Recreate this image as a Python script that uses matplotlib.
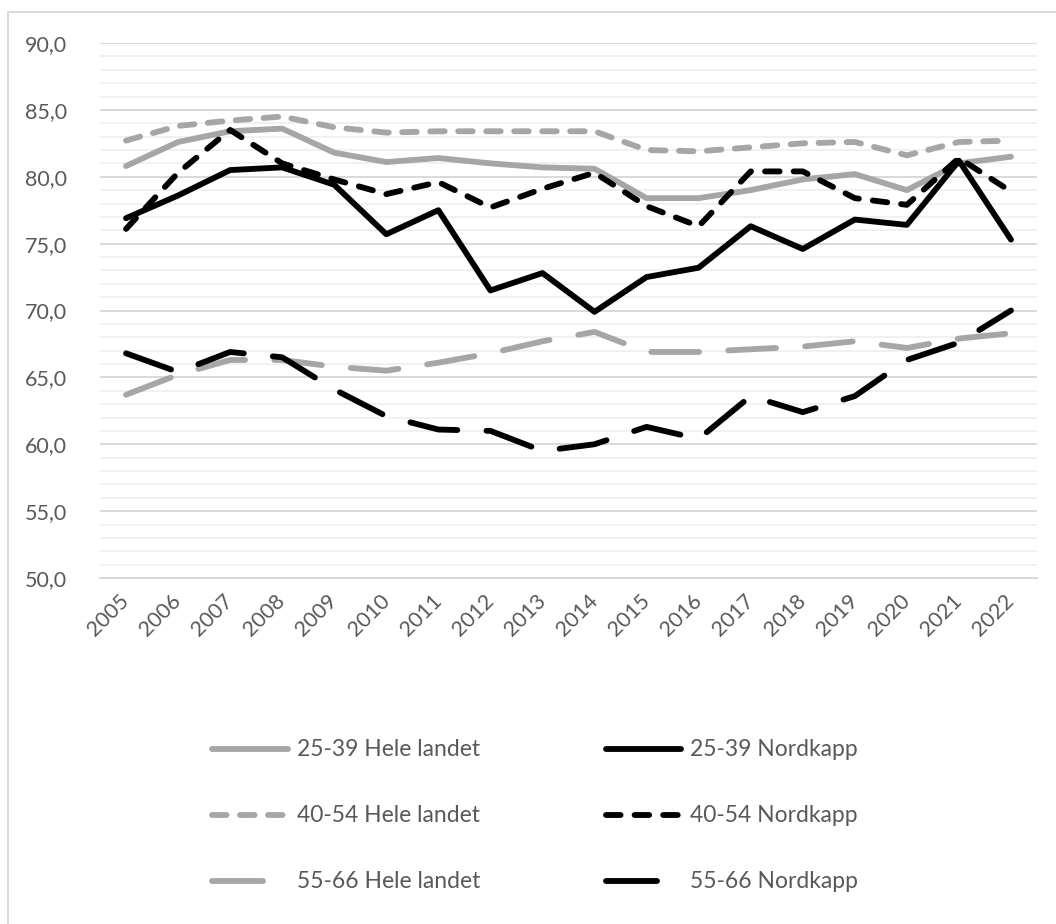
import matplotlib
matplotlib.use('Agg')
import matplotlib.pyplot as plt
from matplotlib.lines import Line2D
from matplotlib.patches import Rectangle
from matplotlib.ticker import MultipleLocator, FuncFormatter

plt.rcParams['font.family'] = ['Lato', 'DejaVu Sans']

years = list(range(2005, 2023))

hele_25_39 = [80.8, 82.6, 83.4, 83.6, 81.8, 81.1, 81.4, 81.0, 80.7, 80.6,
              78.4, 78.4, 79.0, 79.8, 80.2, 79.0, 81.0, 81.5]
nord_25_39 = [76.9, 78.6, 80.5, 80.7, 79.4, 75.7, 77.5, 71.5, 72.8, 69.9,
              72.5, 73.2, 76.3, 74.6, 76.8, 76.4, 81.2, 75.3]
hele_40_54 = [82.7, 83.8, 84.2, 84.5, 83.7, 83.3, 83.4, 83.4, 83.4, 83.4,
              82.0, 81.9, 82.2, 82.5, 82.6, 81.6, 82.6, 82.7]
nord_40_54 = [76.1, 80.3, 83.5, 81.0, 79.8, 78.7, 79.6, 77.7, 79.1, 80.3,
              77.8, 76.3, 80.4, 80.4, 78.4, 77.9, 81.4, 78.9]
hele_55_66 = [63.7, 65.2, 66.3, 66.3, 65.8, 65.5, 66.1, 66.8, 67.7, 68.4,
              66.9, 66.9, 67.1, 67.3, 67.7, 67.2, 67.9, 68.3]
nord_55_66 = [66.8, 65.4, 66.9, 66.5, 64.1, 62.1, 61.1, 61.0, 59.5, 60.0,
              61.3, 60.4, 63.6, 62.4, 63.6, 66.3, 67.6, 70.0]

GRAY = '#a6a6a6'
BLACK = '#000000'
TXT = '#595959'
LW = 4.2

# (label, values, colour, dashes)
series = [
    ('25-39 Hele landet', hele_25_39, GRAY, None),
    ('25-39 Nordkapp', nord_25_39, BLACK, None),
    ('40-54 Hele landet', hele_40_54, GRAY, (2.5, 2.3)),
    ('40-54 Nordkapp', nord_40_54, BLACK, (2.5, 2.4)),
    ('55-66 Hele landet', hele_55_66, GRAY, (8.2, 5.0)),
    ('55-66 Nordkapp', nord_55_66, BLACK, (8.2, 5.0)),
]

W, H = 1056, 924
fig = plt.figure(figsize=(W / 100, H / 100), dpi=100)
ax = fig.add_axes([100 / W, 1 - 578 / H, 937 / W, 535 / H])


def style_line(ln, dashes):
    ln.set_solid_capstyle('round')
    ln.set_dash_capstyle('round')
    ln.set_solid_joinstyle('round')
    ln.set_dash_joinstyle('round')
    if dashes is not None:
        ln.set_dashes(dashes)


for label, vals, col, dashes in series:
    ln, = ax.plot(years, vals, color=col, lw=LW, label=label, zorder=3)
    style_line(ln, dashes)

ax.set_xlim(2004.5, 2022.5)
ax.set_ylim(50, 90)
ax.yaxis.set_major_locator(MultipleLocator(5))
ax.yaxis.set_minor_locator(MultipleLocator(1))
ax.yaxis.set_major_formatter(FuncFormatter(lambda v, p: f'{v:.1f}'.replace('.', ',')))
ax.set_xticks(years)
ax.set_xticklabels([str(y) for y in years], rotation=45, ha='right',
                   va='center', rotation_mode='anchor')
ax.grid(axis='y', which='major', color='#d9d9d9', lw=1.4, zorder=0)
ax.grid(axis='y', which='minor', color='#efefef', lw=1.2, zorder=0)
ax.set_axisbelow(True)
for s in ['top', 'right', 'left']:
    ax.spines[s].set_visible(False)
ax.spines['bottom'].set_color('#d9d9d9')
ax.spines['bottom'].set_linewidth(1.4)
ax.tick_params(axis='both', which='both', length=0, colors=TXT, labelsize=15.5)
ax.tick_params(axis='y', pad=24)
ax.tick_params(axis='x', pad=14)

# outer chart border
fig.add_artist(Rectangle((8 / W, -0.1), 1.2, 1.1 - 12 / H, transform=fig.transFigure,
                         fill=False, edgecolor='#d9d9d9', lw=1.4))

# legend, drawn by hand to mimic the layout below the plot
rows = [749, 815, 881]
cols = [(212, 288, 297), (606, 681, 690)]
for i, (label, vals, col, dashes) in enumerate(series):
    r, c = divmod(i, 2)
    x0, x1, xt = cols[c]
    if r == 2:
        x1 = x0 + 51  # Excel shows a single long dash here
        dashes = None
    y = 1 - rows[r] / H
    ln = Line2D([x0 / W, x1 / W], [y, y], transform=fig.transFigure,
                color=col, lw=LW)
    style_line(ln, dashes)
    fig.add_artist(ln)
    fig.text(xt / W, y, label, color=TXT, fontsize=16.5, va='center', ha='left')

fig.savefig('out.png', dpi=100)
